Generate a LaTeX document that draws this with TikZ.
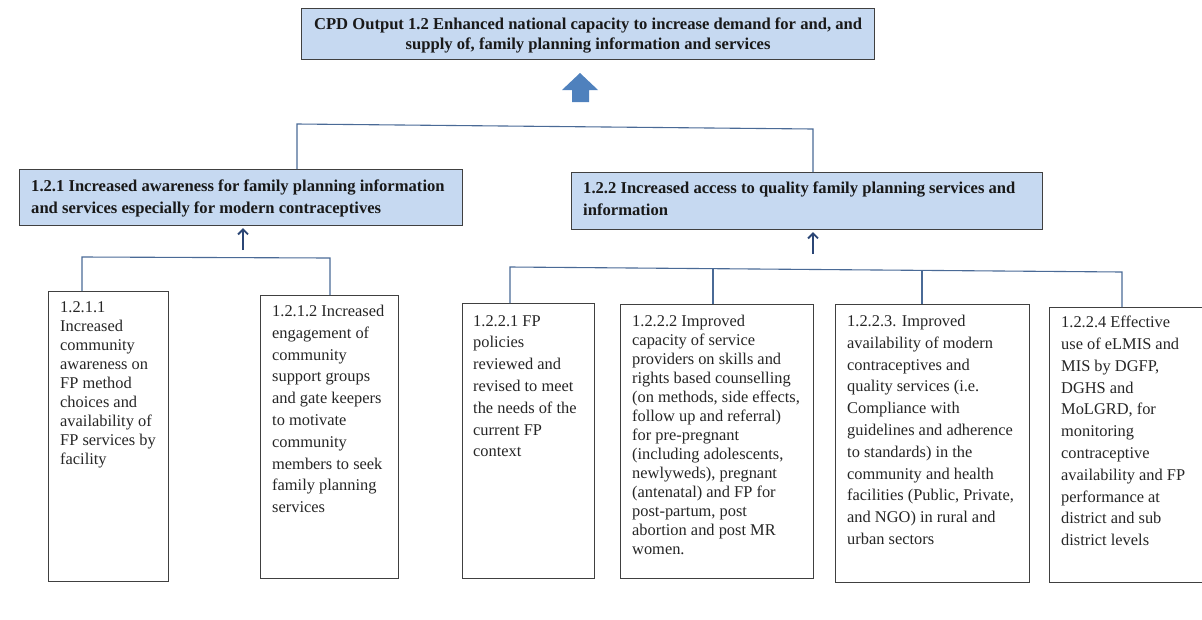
\documentclass[tikz,border=0pt]{standalone}
\usepackage{fontspec}
\setmainfont{Liberation Serif}
\usetikzlibrary{arrows.meta}
\definecolor{boxfill}{HTML}{C6D9F1}
\definecolor{boxline}{HTML}{404040}
\definecolor{conn}{HTML}{4A6A96}
\definecolor{arr}{HTML}{2B4675}
\definecolor{bigarr}{HTML}{4F81BD}
\tikzset{
  hbox/.style={draw=boxline, fill=boxfill, line width=1.2pt, anchor=north west, inner sep=0pt},
  lbox/.style={draw=boxline, fill=white, line width=1.2pt, anchor=north west, inner sep=0pt},
  htxt/.style={anchor=north west, inner sep=0pt, align=left, font=\fontsize{16.6}{22}\selectfont\bfseries, text=black!90},
  ltxt/.style={anchor=north west, inner sep=0pt, align=left, font=\fontsize{16.4}{21.8}\selectfont, text=black!85},
  ltxtb/.style={ltxt, font=\fontsize{16.4}{19}\selectfont},
  conline/.style={draw=conn, line width=1.1pt},
  uparrow/.style={draw=arr, line width=1.8pt, -{Straight Barb[length=5pt,width=10pt]}}
}
\begin{document}
\begin{tikzpicture}[x=1pt,y=-1pt]
\useasboundingbox (0,0) rectangle (1202,619);
% top box
\node[hbox, minimum width=573pt, minimum height=51pt] (top) at (301,8) {};
\node[anchor=center, inner sep=0pt, align=center, font=\fontsize{16.6}{20}\selectfont\bfseries, text=black!90] (toptxt) at ([yshift=-1pt]top.center)
  {CPD Output 1.2 Enhanced national capacity to increase demand for and, and\\supply of, family planning information and services};
% block arrow
\fill[bigarr] (580,73) -- (598,90) -- (589,90) -- (589,102) -- (572,102) -- (572,90) -- (562,90) -- cycle;
% mid boxes
\node[hbox, minimum width=443pt, minimum height=56pt] (m1) at (19,169) {};
\node[htxt] (m1t) at (31,180) {1.2.1 Increased awareness for family planning information\\and services especially for modern contraceptives};
\node[hbox, minimum width=471pt, minimum height=57pt] (m2) at (571,172) {};
\node[htxt] (m2t) at (583,182) {1.2.2 Increased access to quality family planning services and\\information};
% connector between mid boxes
\coordinate (c1) at (297,124);
\coordinate (c2) at (813,129);
\draw[conline] (m1.north -| c1) -- (c1) -- (c2) -- (m2.north -| c2);
% small arrows
\coordinate (a1) at (243,250);
\coordinate (a2) at (813,254);
\draw[uparrow] (a1) -- ([yshift=-2pt]m1.south -| a1);
\draw[uparrow] (a2) -- ([yshift=-2pt]m2.south -| a2);
% bottom boxes left
\node[lbox, minimum width=120pt, minimum height=290pt] (b1) at (48,291) {};
\node[ltxtb] (b1t) at (60,301) {1.2.1.1\\Increased\\community\\awareness on\\FP method\\choices and\\availability of\\FP services by\\facility};
\node[lbox, minimum width=138pt, minimum height=283pt] (b2) at (260,295) {};
\node[ltxt] (b2t) at (272,305) {1.2.1.2 Increased\\engagement of\\community\\support groups\\and gate keepers\\to motivate\\community\\members to seek\\family planning\\services};
\coordinate (l1) at (82,257);
\coordinate (l2) at (330,258);
\draw[conline] (b1.north -| l1) -- (l1) -- (l2) -- (b2.north -| l2);
% bottom boxes right
\node[lbox, minimum width=132pt, minimum height=275pt] (b3) at (462,303) {};
\node[ltxt] (b3t) at (473,315) {1.2.2.1 FP\\policies\\reviewed and\\revised to meet\\the needs of the\\current FP\\context};
\node[lbox, minimum width=193pt, minimum height=274pt] (b4) at (620,304) {};
\node[ltxtb] (b4t) at (632,315) {1.2.2.2 Improved\\capacity of service\\providers on skills and\\rights based counselling\\(on methods, side effects,\\follow up and referral)\\for pre-pregnant\\(including adolescents,\\newlyweds), pregnant\\(antenatal) and FP for\\post-partum, post\\abortion and post MR\\women.};
\node[lbox, minimum width=194pt, minimum height=278pt] (b5) at (835,304) {};
\node[ltxt] (b5t) at (847,315) {1.2.2.3. Improved\\availability of modern\\contraceptives and\\quality services (i.e.\\Compliance with\\guidelines and adherence\\to standards) in the\\community and health\\facilities (Public, Private,\\and NGO) in rural and\\urban sectors};
\node[lbox, minimum width=165pt, minimum height=275pt] (b6) at (1049,307) {};
\node[ltxt] (b6t) at (1061,316) {1.2.2.4 Effective\\use of eLMIS and\\MIS by DGFP,\\DGHS and\\MoLGRD, for\\monitoring\\contraceptive\\availability and FP\\performance at\\district and sub\\district levels};
\coordinate (r1) at (510,267);
\coordinate (r2) at (713,268.7);
\coordinate (r3) at (922,270.4);
\coordinate (r4) at (1122,272);
\draw[conline] (b3.north -| r1) -- (r1) -- (r4) -- (b6.north -| r4);
\draw[conline] (r2) -- (b4.north -| r2);
\draw[conline] (r3) -- (b5.north -| r3);
\end{tikzpicture}
\end{document}
